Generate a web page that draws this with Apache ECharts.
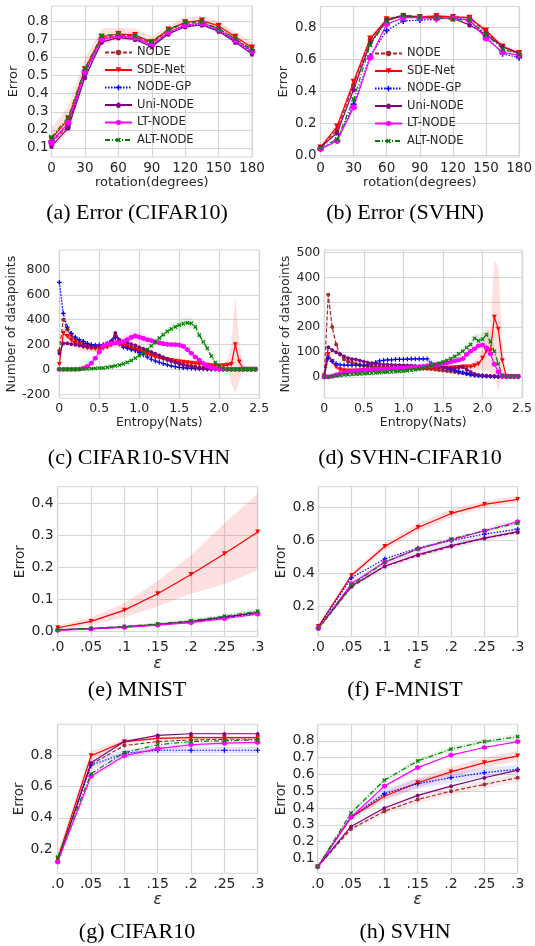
<!DOCTYPE html>
<html><head><meta charset="utf-8">
<script src="https://cdn.jsdelivr.net/npm/echarts@6/dist/echarts.min.js"></script>
<style>html,body{margin:0;padding:0;background:#fff}#c{width:535px;height:946px}</style>
</head><body><div id="c"></div>
<script>
const NAMES = ['NODE','SDE-Net','NODE-GP','Uni-NODE','LT-NODE','ALT-NODE'];

// ---- (a) rotation, CIFAR10 ----
const rotX = [0,15,30,45,60,75,90,105,120,135,150,165,180];
const aNODE = [0.13,0.22,0.53,0.71,0.725,0.715,0.68,0.75,0.79,0.795,0.76,0.70,0.64];
const aSDE  = [0.15,0.26,0.535,0.715,0.73,0.725,0.685,0.755,0.795,0.805,0.775,0.715,0.655];
const aGP   = [0.14,0.23,0.51,0.70,0.715,0.705,0.665,0.735,0.775,0.785,0.75,0.69,0.63];
const aUNI  = [0.11,0.21,0.49,0.685,0.71,0.70,0.66,0.73,0.77,0.78,0.745,0.685,0.62];
const aLT   = [0.13,0.24,0.52,0.70,0.72,0.71,0.67,0.74,0.78,0.79,0.755,0.695,0.635];
const aALT  = [0.16,0.27,0.54,0.72,0.73,0.72,0.69,0.755,0.795,0.80,0.76,0.705,0.645];
const aSDEstd = [0.06,0.07,0.06,0.045,0.035,0.035,0.03,0.025,0.025,0.025,0.025,0.025,0.03];

// ---- (b) rotation, SVHN ----
const bNODE = [0.05,0.16,0.44,0.72,0.85,0.875,0.865,0.87,0.865,0.86,0.77,0.68,0.635];
const bSDE  = [0.05,0.18,0.46,0.73,0.85,0.87,0.865,0.87,0.865,0.86,0.78,0.68,0.64];
const bGP   = [0.04,0.09,0.32,0.62,0.78,0.84,0.845,0.85,0.86,0.845,0.745,0.635,0.61];
const bUNI  = [0.05,0.14,0.41,0.70,0.845,0.875,0.86,0.86,0.855,0.815,0.755,0.68,0.635];
const bLT   = [0.04,0.09,0.30,0.61,0.82,0.86,0.86,0.855,0.855,0.845,0.73,0.645,0.625];
const bALT  = [0.05,0.10,0.35,0.69,0.84,0.875,0.865,0.86,0.85,0.845,0.755,0.665,0.63];
const bSDEstd = [0.01,0.02,0.02,0.02,0.015,0.01,0.01,0.01,0.01,0.01,0.015,0.015,0.01];

// ---- (c)/(d) entropy histograms ----
const entX = [0,0.05,0.1,0.15,0.2,0.25,0.3,0.35,0.4,0.45,0.5,0.55,0.6,0.65,0.7,0.75,0.8,0.85,0.9,0.95,
  1.0,1.05,1.1,1.15,1.2,1.25,1.3,1.35,1.4,1.45,1.5,1.55,1.6,1.65,1.7,1.75,1.8,1.85,1.9,1.95,
  2.0,2.05,2.1,2.15,2.2,2.25,2.3,2.35,2.4,2.45];
const cNODE = [150,400,320,270,240,220,205,195,190,185,185,190,205,225,275,235,205,190,180,170,
  160,148,135,123,112,100,88,76,65,55,46,39,33,27,22,18,14,11,8,6,5,4,3,2,1,1,0,0,0,0];
const cSDE  = [40,290,265,235,210,195,180,172,168,165,165,170,180,195,210,200,190,180,170,158,
  148,135,122,110,100,92,85,78,72,67,63,58,54,50,46,42,38,34,30,28,28,30,35,40,200,60,3,2,2,2];
const cGP   = [700,450,340,290,260,240,225,210,200,195,195,200,210,230,255,215,180,170,160,150,
  135,118,100,82,68,56,46,37,29,22,17,13,10,8,6,5,4,3,2,2,1,1,1,0,0,0,0,0,0,0];
const cUNI  = [130,210,210,205,200,195,190,185,185,185,190,195,205,220,295,240,225,215,205,195,
  180,168,155,142,128,114,100,86,72,60,48,38,30,23,17,12,9,6,4,3,2,2,1,1,0,0,0,0,0,0];
const cLT   = [0,0,0,0,0,2,10,25,50,90,140,185,205,210,215,215,225,240,258,270,
  260,250,240,232,222,214,207,202,200,199,196,185,160,130,100,75,48,30,16,9,5,3,2,1,1,1,1,1,1,1];
const cALT  = [2,2,2,2,3,3,4,5,6,8,10,13,17,22,28,35,45,57,72,90,
  110,132,160,190,222,252,280,305,325,342,357,368,375,370,343,276,222,169,107,54,
  27,8,3,2,2,2,2,2,2,2];
const cSDEstd = [20,70,60,45,40,40,35,30,30,25,25,25,25,25,25,25,20,20,20,20,
  15,15,15,15,15,15,15,15,12,12,12,12,12,10,10,10,10,10,10,10,10,15,40,150,390,150,30,5,5,5];
const cALTstd = [2,2,2,2,2,2,2,2,2,2,3,3,3,4,5,6,8,10,12,14,15,16,18,20,22,25,28,30,35,40,
  45,45,45,45,40,35,30,25,20,10,5,3,2,2,2,2,2,2,2,2];
const cLTstd = [0,0,0,0,0,2,4,6,10,15,20,25,30,35,40,45,50,55,60,60,55,45,35,30,25,20,20,20,20,20,
  20,20,20,15,12,10,8,5,3,2,1,1,1,1,1,1,1,1,1,1];
const cGPstd = [150,60,30,20,15,10,10,10,10,10,10,10,10,10,15,10,10,10,10,10,10,8,8,8,6,6,5,5,5,4,
  4,3,3,3,2,2,2,2,2,2,1,1,1,1,1,1,1,1,1,1];

const dNODE = [10,330,200,130,90,70,62,57,52,48,45,43,42,41,40,40,39,39,38,38,
  40,40,38,36,35,34,33,32,30,28,26,24,22,20,17,14,11,8,6,5,4,3,2,2,1,1,0,0,0,0];
const dSDE  = [0,90,62,40,29,25,24,24,24,25,26,26,27,27,28,28,29,29,30,30,
  30,31,31,32,32,33,33,34,34,35,35,35,36,37,38,40,40,40,45,52,75,105,105,240,192,65,3,2,2,2];
const dGP   = [0,75,62,53,48,47,47,46,46,46,46,48,52,58,64,66,68,68,70,70,
  70,71,72,72,72,72,72,55,46,42,38,34,30,26,22,18,14,10,7,5,4,3,2,1,1,0,0,0,0,0];
const dUNI  = [5,120,108,100,92,83,76,72,70,66,62,58,55,53,52,50,50,49,48,48,
  47,47,46,45,44,44,45,46,45,43,40,38,36,35,38,40,30,20,12,8,6,5,4,3,2,2,1,1,1,1];
const dLT   = [0,0,3,8,13,17,20,22,24,25,26,27,28,29,30,30,31,32,33,34,
  35,36,37,38,40,42,44,46,48,50,53,56,60,64,68,73,90,103,113,125,128,117,93,51,20,3,2,2,2,2];
const dALT  = [0,0,2,4,6,8,9,10,11,12,13,14,15,16,17,18,19,20,21,22,
  23,25,27,29,32,36,40,45,50,55,60,66,73,82,92,103,118,130,155,145,152,170,142,102,52,6,3,2,2,2];
const dSDEstd = [0,20,15,10,8,6,6,6,6,6,6,6,6,6,6,6,6,6,6,6,6,6,6,6,6,6,6,6,6,6,
  6,6,6,6,8,10,12,15,20,25,40,80,90,230,250,60,5,3,3,3];
const dALTstd = [0,0,1,1,1,2,2,2,2,2,2,2,2,2,2,2,2,2,2,2,2,2,2,2,3,3,3,4,4,5,
  5,6,7,8,10,12,15,18,20,25,25,30,25,20,10,3,2,1,1,1];
const dNODEstd = [5,30,20,12,8,6,5,5,5,5,5,5,5,5,5,5,5,5,5,5,5,5,5,5,5,5,5,5,5,5,
  5,5,5,5,5,5,4,3,2,2,2,1,1,1,1,1,1,1,1,1];

// ---- (e)-(h) adversarial epsilon ----
const epsX = [0,0.05,0.1,0.15,0.2,0.25,0.3];
const eNODE = [0.005,0.009,0.015,0.022,0.031,0.044,0.058];
const eSDE  = [0.012,0.032,0.067,0.118,0.178,0.243,0.311];
const eGP   = [0.005,0.009,0.014,0.021,0.030,0.043,0.057];
const eUNI  = [0.005,0.009,0.015,0.022,0.032,0.045,0.060];
const eLT   = [0.004,0.008,0.013,0.020,0.028,0.040,0.054];
const eALT  = [0.006,0.010,0.016,0.024,0.034,0.048,0.064];
const eSDEstd = [0.006,0.012,0.022,0.04,0.06,0.095,0.12];
const eALTstd = [0.002,0.002,0.003,0.004,0.005,0.006,0.008];

const fNODE = [0.065,0.32,0.445,0.51,0.565,0.615,0.65];
const fSDE  = [0.08,0.39,0.565,0.68,0.765,0.82,0.85];
const fGP   = [0.075,0.375,0.49,0.555,0.60,0.64,0.67];
const fUNI  = [0.07,0.325,0.445,0.515,0.57,0.615,0.655];
const fLT   = [0.07,0.34,0.47,0.55,0.605,0.66,0.715];
const fALT  = [0.07,0.33,0.47,0.55,0.61,0.66,0.705];
const fSDEstd = [0.01,0.015,0.02,0.025,0.025,0.02,0.02];
const fUNIstd = [0.005,0.01,0.02,0.02,0.02,0.02,0.02];
const fLTstd  = [0.005,0.01,0.015,0.015,0.015,0.015,0.015];

const gNODE = [0.13,0.74,0.86,0.885,0.895,0.90,0.90];
const gSDE  = [0.14,0.795,0.885,0.905,0.91,0.91,0.91];
const gGP   = [0.12,0.735,0.81,0.83,0.83,0.83,0.83];
const gUNI  = [0.12,0.75,0.885,0.925,0.935,0.935,0.935];
const gLT   = [0.12,0.665,0.795,0.84,0.865,0.875,0.88];
const gALT  = [0.15,0.68,0.815,0.865,0.885,0.89,0.895];
const gSDEstd = [0.04,0.03,0.015,0.01,0.01,0.01,0.01];
const gGPstd  = [0.01,0.03,0.025,0.02,0.02,0.02,0.02];
const gLTstd  = [0.01,0.02,0.015,0.015,0.015,0.015,0.015];

const hNODE = [0.05,0.275,0.38,0.45,0.50,0.54,0.58];
const hSDE  = [0.05,0.345,0.47,0.55,0.615,0.67,0.71];
const hGP   = [0.05,0.345,0.485,0.545,0.58,0.61,0.63];
const hUNI  = [0.05,0.29,0.40,0.475,0.53,0.58,0.625];
const hLT   = [0.05,0.345,0.53,0.64,0.715,0.76,0.795];
const hALT  = [0.05,0.37,0.565,0.68,0.75,0.795,0.825];
const hSDEstd = [0.005,0.015,0.025,0.03,0.03,0.03,0.03];
const hGPstd  = [0.005,0.015,0.03,0.03,0.03,0.03,0.025];
const hALTstd = [0.005,0.01,0.015,0.015,0.015,0.015,0.015];
const hNODEstd = [0.005,0.01,0.02,0.025,0.025,0.025,0.025];

// tick labels
const rotTicks = [0,30,60,90,120,150,180];
const entTicks = [0,0.5,1.0,1.5,2.0,2.5];
const epsTicks = [0,0.05,0.1,0.15,0.2,0.25,0.3];
const epsTickLabels = ['.0','.05','.1','.15','.2','.25','.3'];
const captions = ['(a) Error (CIFAR10)','(b) Error (SVHN)','(c) CIFAR10-SVHN','(d) SVHN-CIFAR10',
  '(e) MNIST','(f) F-MNIST','(g) CIFAR10','(h) SVHN'];

// ---- styles ----
const PLUS = 'path://M3,0H5V3H8V5H5V8H3V5H0V3H3Z';
const PENT = 'path://M50,0L97.6,34.5L79.4,90.5L20.6,90.5L2.4,34.5Z';
const HEX  = 'path://M50,0L93.3,25L93.3,75L50,100L6.7,75L6.7,25Z';
const STY = {
  'NODE':     {color:'#a52a2a', type:[4,2], symbol:'circle', rotate:0, size:5},
  'SDE-Net':  {color:'#ff0000', type:'solid', symbol:'triangle', rotate:180, size:6},
  'NODE-GP':  {color:'#0000ff', type:[1.5,1.5], symbol:PLUS, rotate:0, size:6},
  'Uni-NODE': {color:'#800080', type:'solid', symbol:PENT, rotate:0, size:5},
  'LT-NODE':  {color:'#ff00ff', type:'solid', symbol:HEX, rotate:0, size:6.5},
  'ALT-NODE': {color:'#008000', type:[5,2,1,2], symbol:PLUS, rotate:45, size:6}
};

const TXT = '#262626';
const GRIDC = '#d6d6d6';

const panels = [
  {g:[51.5,6,200.5,151], x:[0,180,30], y:[0.05,0.885], yt:[0.1,0.2,0.3,0.4,0.5,0.6,0.7,0.8], yf:v=>v.toFixed(1),
   xf:v=>String(Math.round(v)), xn:'rotation(degrees)', yn:'Error', fs:13.5, nfs:13, xgap:19, ygap:31, ym:3,
   xs:rotX, s:[aNODE,aSDE,aGP,aUNI,aLT,aALT], bands:[[1,aSDEstd,0.12]], msz:1},
  {g:[320.5,6.5,200.5,150.5], x:[0,180,30], y:[-0.01,0.93], yt:[0,0.2,0.4,0.6,0.8], yf:v=>v.toFixed(1),
   xf:v=>String(Math.round(v)), xn:'rotation(degrees)', yn:'Error', fs:13.5, nfs:13, xgap:19, ygap:30, ym:4,
   xs:rotX, s:[bNODE,bSDE,bGP,bUNI,bLT,bALT], bands:[[1,bSDEstd,0.12]], msz:1},
  {g:[59.3,250,200,148.3], x:[0,2.5,0.5], y:[-232,960], yt:[-200,0,200,400,600,800], yf:v=>String(v),
   xf:v=>v===0?'0':v.toFixed(1), xn:'Entropy(Nats)', yn:'Number of datapoints', fs:12.5, nfs:12.5, xgap:18, ygap:40, ym:9,
   xs:entX, s:[cNODE,cSDE,cGP,cUNI,cLT,cALT], bands:[[1,cSDEstd,0.12],[5,cALTstd,0.1],[4,cLTstd,0.08],[2,cGPstd,0.08]], msz:0.8},
  {g:[324.3,250,200,148], x:[0,2.5,0.5], y:[-85,510], yt:[0,100,200,300,400,500], yf:v=>String(v),
   xf:v=>v===0?'0':v.toFixed(1), xn:'Entropy(Nats)', yn:'Number of datapoints', fs:12.5, nfs:12.5, xgap:18, ygap:29, ym:4,
   xs:entX, s:[dNODE,dSDE,dGP,dUNI,dLT,dALT], bands:[[1,dSDEstd,0.12],[5,dALTstd,0.1],[0,dNODEstd,0.1]], msz:0.8},
  {g:[57.7,486.7,200,150], x:[0,0.3,0.05], y:[-0.016,0.452], yt:[0,0.1,0.2,0.3,0.4], yf:v=>v.toFixed(1),
   xf:null, xn:'ε', yn:'Error', fs:14, nfs:13.5, xgap:13, ygap:27, ym:4,
   xs:epsX, s:[eNODE,eSDE,eGP,eUNI,eLT,eALT], bands:[[1,eSDEstd,0.12],[5,eALTstd,0.12]], msz:0.8},
  {g:[318.3,486.7,199.4,150], x:[0,0.3,0.05], y:[0.018,0.927], yt:[0.2,0.4,0.6,0.8], yf:v=>v.toFixed(1),
   xf:null, xn:'ε', yn:'Error', fs:14, nfs:13.5, xgap:13, ygap:27, ym:3.5,
   xs:epsX, s:[fNODE,fSDE,fGP,fUNI,fLT,fALT], bands:[[1,fSDEstd,0.12],[3,fUNIstd,0.1],[4,fLTstd,0.1]], msz:0.8},
  {g:[57.7,724.3,200,149], x:[0,0.3,0.05], y:[0.047,0.995], yt:[0.2,0.4,0.6,0.8], yf:v=>v.toFixed(1),
   xf:null, xn:'ε', yn:'Error', fs:14, nfs:13.5, xgap:13, ygap:27, ym:5,
   xs:epsX, s:[gNODE,gSDE,gGP,gUNI,gLT,gALT], bands:[[1,gSDEstd,0.12],[2,gGPstd,0.1],[4,gLTstd,0.1]], msz:0.8},
  {g:[317.7,724.3,200,149], x:[0,0.3,0.05], y:[0.011,0.898], yt:[0.1,0.2,0.3,0.4,0.5,0.6,0.7,0.8], yf:v=>v.toFixed(1),
   xf:null, xn:'ε', yn:'Error', fs:14, nfs:13.5, xgap:13, ygap:27, ym:3,
   xs:epsX, s:[hNODE,hSDE,hGP,hUNI,hLT,hALT], bands:[[1,hSDEstd,0.12],[2,hGPstd,0.1],[5,hALTstd,0.1],[0,hNODEstd,0.1]], msz:0.8}
];
const capPos = [[137,213],[405,213],[139,458],[410,458],[137,690],[405,690],[137,932],[405,932]];

function epsFmt(v){
  const i = epsTicks.findIndex(t => Math.abs(t - v) < 1e-9);
  return i >= 0 ? epsTickLabels[i] : '';
}

function bandSeries(gi, xs, vals, std, color, op){
  const data = xs.map((x,i)=>[x, vals[i]-std[i], vals[i]+std[i]]);
  return {
    type:'custom', xAxisIndex:gi, yAxisIndex:gi, silent:true, z:1, clip:true,
    data, encode:{x:0, y:[1,2]},
    renderItem:(params, api)=>{
      if (params.dataIndex !== 0) return;
      const pts = [];
      for (let i=0;i<data.length;i++) pts.push(api.coord([data[i][0], data[i][2]]));
      for (let i=data.length-1;i>=0;i--) pts.push(api.coord([data[i][0], data[i][1]]));
      return {type:'polygon', shape:{points:pts}, style:{fill:color, opacity:op}};
    }
  };
}

const grid=[], xAxis=[], yAxis=[], series=[];
panels.forEach((p,gi)=>{
  grid.push({left:p.g[0], top:p.g[1], width:p.g[2], height:p.g[3], show:true,
    borderColor:GRIDC, borderWidth:1, backgroundColor:'#fff', containLabel:false});
  xAxis.push({type:'value', gridIndex:gi, min:p.x[0], max:p.x[1], interval:p.x[2],
    axisLine:{show:false}, axisTick:{show:false},
    splitLine:{show:true, lineStyle:{color:GRIDC, width:1.2}},
    axisLabel:{fontSize:p.fs, color:TXT, margin:4, fontFamily:'DejaVu Sans',
      formatter: p.xf ? p.xf : epsFmt, showMinLabel:true, showMaxLabel:true, hideOverlap:false},
    name:p.xn, nameLocation:'middle', nameGap:p.xgap,
    nameTextStyle:{fontSize: p.xn==='ε' ? p.nfs+2 : p.nfs, color:TXT, fontFamily:'DejaVu Sans', fontStyle: p.xn==='ε'?'italic':'normal'}});
  yAxis.push({type:'value', gridIndex:gi, min:p.y[0], max:p.y[1],
    axisLine:{show:false}, axisTick:{show:false, customValues:p.yt},
    splitLine:{show:true, lineStyle:{color:GRIDC, width:1.2}},
    axisLabel:{fontSize:p.fs, color:TXT, margin:p.ym, fontFamily:'DejaVu Sans', customValues:p.yt, formatter:p.yf},
    name:p.yn, nameLocation:'middle', nameGap:p.ygap, nameRotate:90,
    nameTextStyle:{fontSize:p.nfs, color:TXT, fontFamily:'DejaVu Sans'}});
  p.bands.forEach(b=>{
    const nm = NAMES[b[0]];
    series.push(bandSeries(gi, p.xs, p.s[b[0]], b[1], STY[nm].color, b[2]));
  });
  NAMES.forEach((nm,k)=>{
    const st = STY[nm];
    series.push({type:'line', name:nm, xAxisIndex:gi, yAxisIndex:gi,
      data:p.xs.map((x,i)=>[x, p.s[k][i]]),
      symbol:st.symbol, symbolSize:st.size*p.msz, symbolRotate:st.rotate, showSymbol:true,
      itemStyle:{color:st.color}, lineStyle:{color:st.color, width:1.2, type:st.type},
      emphasis:{disabled:true}, z:3, clip:true});
  });
});

const legendCommon = {orient:'vertical', itemWidth:27, itemHeight:7, itemGap:4.5, selectedMode:false,
  data:NAMES, textStyle:{fontSize:11.5, color:TXT, fontFamily:'DejaVu Sans', lineHeight:13}, padding:0};
const legend = [
  Object.assign({left:104, top:46}, legendCommon),
  Object.assign({left:374, top:47}, legendCommon)
];

const graphic = captions.map((t,i)=>({type:'text', x:capPos[i][0], y:capPos[i][1], silent:true,
  style:{text:t, font:'22px "Liberation Serif"', fill:'#000', align:'center', verticalAlign:'middle',
    textAlign:'center', textVerticalAlign:'middle'}}));

const chart = echarts.init(document.getElementById('c'), null, {renderer:'canvas'});
chart.setOption({animation:false, backgroundColor:'#fff', grid, xAxis, yAxis, series, legend, graphic});
</script></body></html>
